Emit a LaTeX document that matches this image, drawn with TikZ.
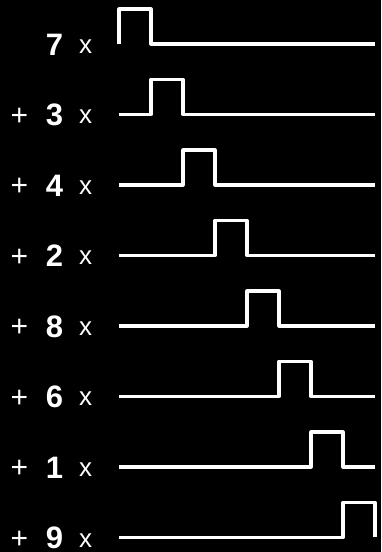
\documentclass[tikz,border=0pt]{standalone}
\usepackage{fontspec}
\setmainfont{Liberation Sans}
\begin{document}
\begin{tikzpicture}[x=1pt,y=1pt,
  wave/.style={white,line width=3.1pt,line join=round},
  coef/.style={text=white,font=\fontsize{31}{31}\selectfont\bfseries,anchor=base,inner sep=0pt},
  xsym/.style={text=white,font=\fontsize{26}{26}\selectfont,anchor=base,inner sep=0pt},
  psym/.style={text=white,font=\fontsize{30}{30}\selectfont,anchor=base,inner sep=0pt}]
\fill[black] (0,0) rectangle (381,552);
\useasboundingbox (0,0) rectangle (381,552);
\foreach \n [count=\i from 0] in {7,3,4,2,8,6,1,9} {
  \pgfmathsetmacro\b{552-44-70.5*\i}
  \pgfmathsetmacro\xa{119+32*\i}
  \pgfmathsetmacro\xb{\xa+32}
  \pgfmathsetmacro\t{\b+35}
  \pgfmathsetmacro\tb{\b-11.5}
  \pgfmathsetmacro\xbase{\b-9.5}
  \pgfmathsetmacro\pbase{\b-11}
  \coordinate (s\i) at (119,\b);
  \coordinate (a\i) at (\xa,\b);
  \coordinate (at\i) at (\xa,\t);
  \coordinate (bt\i) at (\xb,\t);
  \coordinate (bb\i) at (\xb,\b);
  \coordinate (e\i) at (375,\b);
  \draw[wave] (s\i) -- (a\i) -- (at\i) -- (bt\i) -- (bb\i) -- (e\i);
  \ifnum\i>0 \node[psym] (p\i) at (19.5,\pbase) {+}; \fi
  \node[coef] (c\i) at (54.5,\tb) {\n};
  \node[xsym] (x\i) at (85.5,\xbase) {x};
}
\end{tikzpicture}
\end{document}
